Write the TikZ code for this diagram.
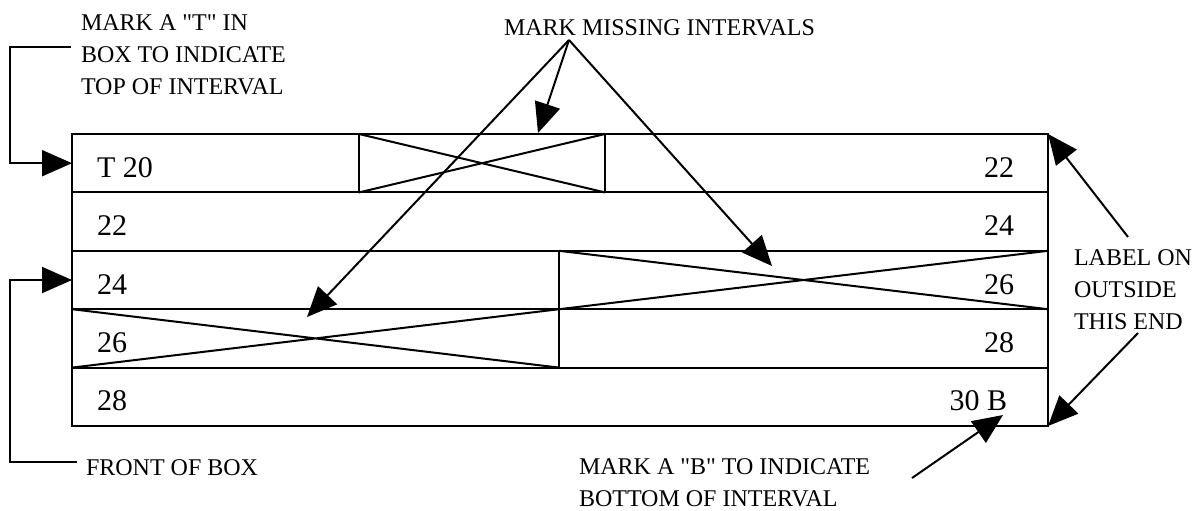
\documentclass[tikz,border=0pt]{standalone}
\usepackage{fontspec}
\setmainfont{Liberation Serif}
\usetikzlibrary{arrows.meta}
\tikzset{
	row/.style     = {draw, rectangle, inner sep = 0, outer sep = 0,
		minimum width = 488pt, minimum height = 29.2pt},
	gap/.style     = {draw, rectangle, inner sep = 0, outer sep = 0,
		minimum height = 29.2pt},
	depth/.style   = {inner sep = 0, font = \fontsize{15}{18}\selectfont},
	note/.style    = {inner sep = 0, align = left, font = \fontsize{12}{16}\selectfont},
	pointer/.style = {->}
}
\newcommand{\crossout}[1]{\draw (#1.north west) -- (#1.south east) (#1.south west) -- (#1.north east);}

\begin{document}
\begin{tikzpicture}[auto, line width = 1pt, >={Triangle[length=15pt,width=13pt]}, x = 0.5pt, y = -0.5pt]
	\useasboundingbox (0,0) rectangle (1202,510);
	\draw
	node at (560,163.2)[row] (r1) {}
	node at (560,221.6)[row] (r2) {}
	node at (560,280)[row] (r3) {}
	node at (560,338.4)[row] (r4) {}
	node at (560,396.8)[row] (r5) {};
	
	% missing intervals
	\draw
	node at (482,163.2)[gap, minimum width = 123pt] (g1) {}
	node at (803.5,280)[gap, minimum width = 244.5pt] (g2) {}
	node at (315.5,338.4)[gap, minimum width = 243.5pt] (g3) {};
	\crossout{g1}
	\crossout{g2}
	\crossout{g3}
	
	% depths
	\draw
	node at (96,177.2)[depth, anchor = base west] (t1) {T 20}
	node at (1015,177.2)[depth, anchor = base east] (b1) {22}
	node at (96,235.6)[depth, anchor = base west] (t2) {22}
	node at (1015,235.6)[depth, anchor = base east] (b2) {24}
	node at (96,294)[depth, anchor = base west] (t3) {24}
	node at (1015,294)[depth, anchor = base east] (b3) {26}
	node at (96,352.4)[depth, anchor = base west] (t4) {26}
	node at (1015,352.4)[depth, anchor = base east] (b4) {28}
	node at (96,410.8)[depth, anchor = base west] (t5) {28}
	node at (1008,410.8)[depth, anchor = base east] (b5) {30 B};
	
	% notes
	\draw
	node at (80,14)[note, anchor = north west] (ntop) {MARK A \textquotedbl T\textquotedbl{} IN\\BOX TO INDICATE\\TOP OF INTERVAL}
	node at (85,475)[note, anchor = base west] (nfront) {FRONT OF BOX}
	node at (503,35)[note, anchor = base west] (nmiss) {MARK MISSING INTERVALS}
	node at (1073,249)[note, anchor = north west] (nend) {LABEL ON\\OUTSIDE\\THIS END}
	node at (578,458)[note, anchor = north west] (nbot) {MARK A \textquotedbl B\textquotedbl{} TO INDICATE\\BOTTOM OF INTERVAL};
	
	\coordinate (rail) at (10,0);
	\coordinate (ts) at (71,47);
	\coordinate (fs) at (77,462);
	\coordinate (apex) at (569,40);
	\coordinate (m1) at (538,133);
	\coordinate (m2) at (307,317);
	\coordinate (m3) at (772,266);
	\coordinate (e1) at (1128,237);
	\coordinate (e2) at (1138,333);
	\coordinate (bs) at (912,478);
	\coordinate (bt) at (1003,415);
	
	\draw[pointer] (ts) -- (ts -| rail) |- (r1.west);
	\draw[pointer] (fs) -- (fs -| rail) |- (r3.west);
	\draw[pointer] (apex) -- (m1);
	\draw[pointer] (apex) -- (m2);
	\draw[pointer] (apex) -- (m3);
	\draw[pointer] (e1) -- (r1.north east);
	\draw[pointer] (e2) -- (r5.south east);
	\draw[pointer] (bs) -- (bt);
	
\end{tikzpicture}
\end{document}
